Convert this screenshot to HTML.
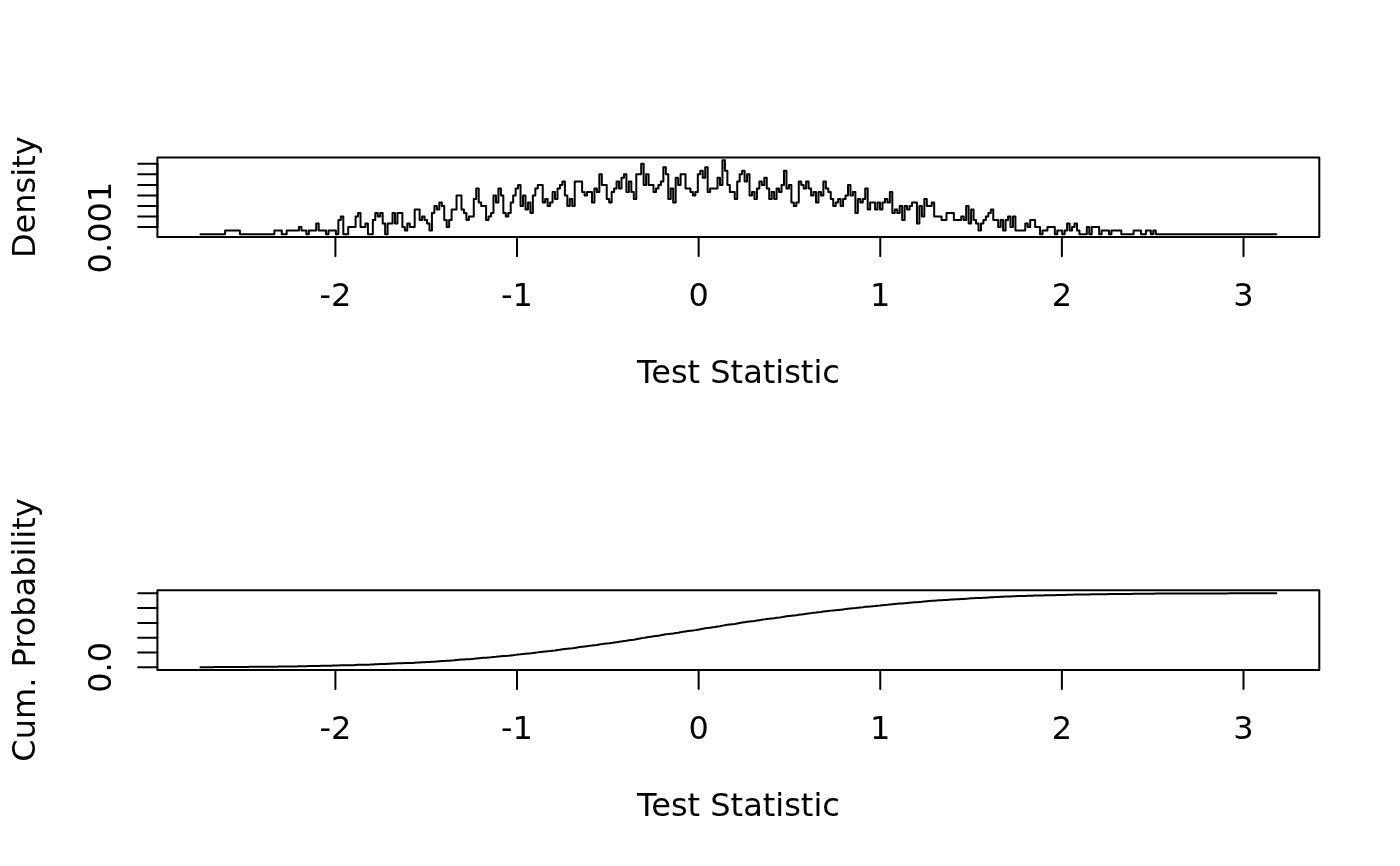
<!DOCTYPE html>
<html lang="en"><head><meta charset="utf-8"><title>Test Statistic distribution</title>
<style>
html,body{margin:0;padding:0;background:#fff;}
body{width:1400px;height:866px;overflow:hidden;}
svg{display:block;}
svg text{font-family:"DejaVu Sans","Liberation Sans",sans-serif;font-size:32px;fill:#000;stroke:none;}
</style></head><body>
<svg width="1400" height="866" viewBox="0 0 1400 866">
<rect width="1400" height="866" fill="#fff"/>
<g fill="none" stroke="#000" stroke-width="2" stroke-linecap="round" stroke-linejoin="round">
<rect x="157.4" y="157.4" width="1161.8999999999999" height="79.54999999999998"/>
<path d="M157.4 227.10H138.20000000000002"/><path d="M157.4 216.55H138.20000000000002"/><path d="M157.4 206.00H138.20000000000002"/><path d="M157.4 195.45H138.20000000000002"/><path d="M157.4 184.90H138.20000000000002"/><path d="M157.4 174.35H138.20000000000002"/><path d="M157.4 163.80H138.20000000000002"/>
<path d="M157.4 227.10V163.80"/>
<rect x="157.4" y="590.35" width="1161.8999999999999" height="79.54999999999995"/>
<path d="M157.4 667.30H138.20000000000002"/><path d="M157.4 652.50H138.20000000000002"/><path d="M157.4 637.70H138.20000000000002"/><path d="M157.4 622.90H138.20000000000002"/><path d="M157.4 608.10H138.20000000000002"/><path d="M157.4 593.30H138.20000000000002"/>
</g>
<g fill="none" stroke="#000" stroke-width="2" stroke-linecap="round">
<path d="M335.40 236.95H1243.50" /><path d="M335.40 236.95V256.15" /><path d="M517.02 236.95V256.15" /><path d="M698.64 236.95V256.15" /><path d="M880.26 236.95V256.15" /><path d="M1061.88 236.95V256.15" /><path d="M1243.50 236.95V256.15" />
<text x="335.40" y="305.8" text-anchor="middle">-2</text><text x="517.02" y="305.8" text-anchor="middle">-1</text><text x="698.64" y="305.8" text-anchor="middle">0</text><text x="880.26" y="305.8" text-anchor="middle">1</text><text x="1061.88" y="305.8" text-anchor="middle">2</text><text x="1243.50" y="305.8" text-anchor="middle">3</text>
<text x="738.5" y="383" text-anchor="middle">Test Statistic</text>

<path d="M335.40 669.9H1243.50" /><path d="M335.40 669.9V689.1" /><path d="M517.02 669.9V689.1" /><path d="M698.64 669.9V689.1" /><path d="M880.26 669.9V689.1" /><path d="M1061.88 669.9V689.1" /><path d="M1243.50 669.9V689.1" />
<text x="335.40" y="738.8" text-anchor="middle">-2</text><text x="517.02" y="738.8" text-anchor="middle">-1</text><text x="698.64" y="738.8" text-anchor="middle">0</text><text x="880.26" y="738.8" text-anchor="middle">1</text><text x="1061.88" y="738.8" text-anchor="middle">2</text><text x="1243.50" y="738.8" text-anchor="middle">3</text>
<text x="738.5" y="816" text-anchor="middle">Test Statistic</text>

</g>
<g fill="none" stroke="#000" stroke-width="2" stroke-linecap="round" stroke-linejoin="round">
<path id="hist" d="M200.50 234.13H225.12V230.62H239.89V234.13H274.36V230.62H281.75V234.13H286.67V230.62H298.98V227.10H301.44V230.62H306.37V234.13H308.83V230.62H316.21V223.58H318.68V230.62H326.06V234.13H328.52V230.62H335.91V234.13H338.37V220.06H340.83V216.55H343.30V234.13H348.22V227.10H355.61V216.55H358.07V213.03H360.53V227.10H365.45V223.58H367.92V234.13H372.84V220.06H375.30V213.03H377.76V216.55H380.23V213.03H382.69V223.58H385.15V234.13H387.61V223.58H392.54V213.03H395.00V223.58H397.46V213.03H402.38V227.10H404.85V230.62H407.31V223.58H409.77V227.10H414.69V209.51H419.62V220.06H422.08V216.55H424.54V220.06H427.00V223.58H429.47V230.62H431.93V213.03H434.39V206.00H436.85V209.51H439.31V202.48H441.78V206.00H444.24V220.06H446.70V227.10H449.16V220.06H451.62V209.51H456.55V195.45H461.47V209.51H463.93V213.03H466.40V220.06H468.86V216.55H473.78V198.96H476.24V188.41H478.71V202.48H481.17V206.00H486.09V220.06H488.55V216.55H491.02V213.03H493.48V195.45H495.94V202.48H498.40V188.41H500.86V195.45H503.33V213.03H505.79V216.55H508.25V213.03H510.71V202.48H513.17V195.45H515.64V188.41H518.10V184.90H520.56V206.00H523.02V195.45H525.48V209.51H527.95V202.48H530.41V213.03H532.87V195.45H535.33V188.41H537.79V184.90H542.72V202.48H545.18V198.96H547.64V206.00H550.10V202.48H552.57V191.93H555.03V198.96H557.49V188.41H559.95V184.90H562.41V181.38H564.88V195.45H567.34V206.00H569.80V198.96H572.26V206.00H574.72V181.38H582.11V191.93H584.57V195.45H587.03V191.93H591.96V202.48H594.42V188.41H596.88V191.93H599.34V174.34H601.81V184.90H606.73V198.96H609.19V202.48H611.65V191.93H614.12V188.41H616.58V181.38H619.04V188.41H621.50V177.86H623.96V174.34H626.43V191.93H628.89V181.38H631.35V191.93H633.81V198.96H636.27V174.34H641.20V163.79H643.66V184.90H646.12V174.34H648.58V184.90H653.51V191.93H655.97V188.41H658.43V184.90H660.89V181.38H663.36V167.31H665.82V174.34H668.28V198.96H670.74V188.41H673.20V202.48H675.67V177.86H678.13V184.90H680.59V174.34H685.51V188.41H690.44V191.93H692.90V195.45H695.36V191.93H697.82V174.34H700.29V170.83H702.75V177.86H705.21V167.31H707.67V191.93H710.13V188.41H717.52V177.86H719.98V184.90H722.44V160.28H724.91V170.83H727.37V184.90H729.83V191.93H734.75V198.96H737.22V181.38H739.68V174.34H742.14V170.83H744.60V181.38H747.06V174.34H749.53V195.45H751.99V191.93H754.45V198.96H756.91V188.41H759.37V181.38H761.84V184.90H764.30V177.86H766.76V188.41H769.22V198.96H771.68V191.93H774.15V198.96H776.61V188.41H779.07V191.93H781.53V184.90H783.99V170.83H786.46V188.41H788.92V184.90H791.38V202.48H793.84V206.00H796.30V202.48H798.77V181.38H801.23V184.90H803.69V188.41H806.15V181.38H808.61V188.41H811.08V195.45H813.54V191.93H816.00V202.48H818.46V191.93H820.92V195.45H823.39V181.38H825.85V188.41H828.31V191.93H830.77V198.96H833.23V206.00H835.70V202.48H838.16V198.96H840.62V206.00H843.08V198.96H845.54V195.45H848.01V184.90H850.47V195.45H852.93V191.93H855.39V213.03H857.85V198.96H860.32V202.48H862.78V198.96H865.24V188.41H867.70V209.51H870.16V202.48H875.09V209.51H877.55V202.48H880.01V209.51H882.47V202.48H884.94V198.96H887.40V202.48H889.86V191.93H892.32V213.03H894.78V209.51H897.25V213.03H899.71V206.00H902.17V220.06H904.63V206.00H907.09V209.51H909.56V206.00H912.02V202.48H916.94V223.58H919.40V206.00H921.87V216.55H924.33V198.96H926.79V206.00H931.71V202.48H934.18V216.55H941.56V220.06H946.49V213.03H953.87V220.06H961.26V216.55H963.72V220.06H966.18V206.00H968.64V223.58H971.11V209.51H973.57V220.06H976.03V223.58H978.49V230.62H980.95V223.58H983.42V220.06H985.88V216.55H988.34V213.03H990.80V209.51H993.26V220.06H998.19V227.10H1000.65V220.06H1003.11V230.62H1005.57V220.06H1008.04V216.55H1010.50V227.10H1012.96V216.55H1015.42V230.62H1025.27V223.58H1027.73V227.10H1030.19V220.06H1035.12V227.10H1040.04V234.13H1042.50V230.62H1047.43V227.10H1054.81V234.13H1057.28V230.62H1062.20V234.13H1064.66V230.62H1067.12V223.58H1069.59V230.62H1072.05V227.10H1074.51V223.58H1076.97V230.62H1079.43V234.13H1086.82V227.10H1089.28V234.13H1091.74V227.10H1099.13V234.13H1101.59V230.62H1108.98V234.13H1111.44V230.62H1121.29V234.13H1133.60V230.62H1140.98V234.13H1145.91V230.62H1150.83V234.13H1153.29V230.62H1155.76V234.13H1276.39"/>
<path id="cdf" d="M200.50 667.23 L202.96 667.21 L205.42 667.19 L207.89 667.17 L210.35 667.16 L212.81 667.14 L215.27 667.12 L217.73 667.11 L220.20 667.09 L222.66 667.07 L225.12 667.02 L227.58 667.00 L230.04 666.99 L232.51 666.98 L234.97 666.97 L237.43 666.95 L239.89 666.92 L242.35 666.91 L244.82 666.89 L247.28 666.88 L249.74 666.86 L252.20 666.84 L254.66 666.83 L257.13 666.81 L259.59 666.80 L262.05 666.78 L264.51 666.76 L266.97 666.74 L269.44 666.73 L271.90 666.71 L274.36 666.65 L276.82 666.63 L279.28 666.61 L281.75 666.57 L284.21 666.55 L286.67 666.50 L289.13 666.47 L291.59 666.44 L294.06 666.41 L296.52 666.38 L298.98 666.30 L301.44 666.24 L303.90 666.21 L306.37 666.18 L308.83 666.12 L311.29 666.08 L313.75 666.04 L316.21 665.94 L318.68 665.88 L321.14 665.84 L323.60 665.80 L326.06 665.77 L328.52 665.71 L330.99 665.67 L333.45 665.62 L335.91 665.59 L338.37 665.48 L340.83 665.34 L343.30 665.33 L345.76 665.32 L348.22 665.26 L350.68 665.20 L353.14 665.15 L355.61 665.01 L358.07 664.85 L360.53 664.79 L362.99 664.73 L365.45 664.64 L367.92 664.63 L370.38 664.62 L372.84 664.50 L375.30 664.34 L377.76 664.20 L380.23 664.04 L382.69 663.95 L385.15 663.94 L387.61 663.85 L390.07 663.76 L392.54 663.60 L395.00 663.51 L397.46 663.35 L399.92 663.20 L402.38 663.14 L404.85 663.10 L407.31 663.01 L409.77 662.94 L412.23 662.88 L414.69 662.70 L417.16 662.52 L419.62 662.40 L422.08 662.27 L424.54 662.15 L427.00 662.06 L429.47 662.02 L431.93 661.86 L434.39 661.65 L436.85 661.46 L439.31 661.22 L441.78 661.01 L444.24 660.90 L446.70 660.83 L449.16 660.72 L451.62 660.53 L454.09 660.35 L456.55 660.06 L459.01 659.77 L461.47 659.59 L463.93 659.42 L466.40 659.31 L468.86 659.17 L471.32 659.03 L473.78 658.77 L476.24 658.43 L478.71 658.20 L481.17 657.98 L483.63 657.77 L486.09 657.66 L488.55 657.52 L491.02 657.36 L493.48 657.07 L495.94 656.83 L498.40 656.50 L500.86 656.21 L503.33 656.05 L505.79 655.91 L508.25 655.75 L510.71 655.51 L513.17 655.22 L515.64 654.88 L518.10 654.52 L520.56 654.30 L523.02 654.00 L525.48 653.80 L527.95 653.56 L530.41 653.38 L532.87 653.09 L535.33 652.74 L537.79 652.37 L540.26 652.00 L542.72 651.75 L545.18 651.48 L547.64 651.26 L550.10 651.01 L552.57 650.69 L555.03 650.42 L557.49 650.07 L559.95 649.70 L562.41 649.31 L564.88 649.01 L567.34 648.79 L569.80 648.52 L572.26 648.30 L574.72 647.90 L577.19 647.51 L579.65 647.11 L582.11 646.79 L584.57 646.49 L587.03 646.17 L589.50 645.85 L591.96 645.60 L594.42 645.26 L596.88 644.94 L599.34 644.49 L601.81 644.12 L604.27 643.75 L606.73 643.48 L609.19 643.23 L611.65 642.91 L614.12 642.56 L616.58 642.17 L619.04 641.82 L621.50 641.40 L623.96 640.96 L626.43 640.64 L628.89 640.24 L631.35 639.92 L633.81 639.65 L636.27 639.20 L638.74 638.76 L641.20 638.24 L643.66 637.87 L646.12 637.42 L648.58 637.05 L651.05 636.68 L653.51 636.36 L655.97 636.02 L658.43 635.64 L660.89 635.25 L663.36 634.75 L665.82 634.31 L668.28 634.04 L670.74 633.69 L673.20 633.45 L675.67 633.03 L678.13 632.65 L680.59 632.21 L683.05 631.76 L685.51 631.42 L687.98 631.07 L690.44 630.75 L692.90 630.46 L695.36 630.13 L697.82 629.69 L700.29 629.22 L702.75 628.80 L705.21 628.31 L707.67 627.99 L710.13 627.65 L712.60 627.31 L715.06 626.97 L717.52 626.55 L719.98 626.18 L722.44 625.64 L724.91 625.17 L727.37 624.81 L729.83 624.49 L732.29 624.17 L734.75 623.90 L737.22 623.51 L739.68 623.07 L742.14 622.60 L744.60 622.21 L747.06 621.77 L749.53 621.47 L751.99 621.15 L754.45 620.89 L756.91 620.54 L759.37 620.15 L761.84 619.78 L764.30 619.37 L766.76 619.02 L769.22 618.75 L771.68 618.44 L774.15 618.17 L776.61 617.82 L779.07 617.51 L781.53 617.14 L783.99 616.67 L786.46 616.33 L788.92 615.96 L791.38 615.72 L793.84 615.50 L796.30 615.25 L798.77 614.86 L801.23 614.49 L803.69 614.15 L806.15 613.76 L808.61 613.42 L811.08 613.12 L813.54 612.80 L816.00 612.56 L818.46 612.24 L820.92 611.95 L823.39 611.56 L825.85 611.21 L828.31 610.90 L830.77 610.63 L833.23 610.41 L835.70 610.16 L838.16 609.90 L840.62 609.68 L843.08 609.41 L845.54 609.11 L848.01 608.75 L850.47 608.45 L852.93 608.14 L855.39 607.97 L857.85 607.70 L860.32 607.45 L862.78 607.19 L865.24 606.84 L867.70 606.65 L870.16 606.40 L872.63 606.16 L875.09 605.97 L877.55 605.72 L880.01 605.53 L882.47 605.27 L884.94 605.00 L887.40 604.74 L889.86 604.41 L892.32 604.23 L894.78 604.03 L897.25 603.85 L899.71 603.62 L902.17 603.48 L904.63 603.25 L907.09 603.05 L909.56 602.82 L912.02 602.56 L914.48 602.31 L916.94 602.20 L919.40 601.97 L921.87 601.82 L924.33 601.54 L926.79 601.31 L929.25 601.08 L931.71 600.83 L934.18 600.67 L936.64 600.51 L939.10 600.36 L941.56 600.23 L944.02 600.10 L946.49 599.92 L948.95 599.74 L951.41 599.56 L953.87 599.43 L956.33 599.30 L958.80 599.17 L961.26 599.02 L963.72 598.89 L966.18 598.66 L968.64 598.55 L971.11 598.35 L973.57 598.22 L976.03 598.11 L978.49 598.05 L980.95 597.95 L983.42 597.82 L985.88 597.66 L988.34 597.48 L990.80 597.27 L993.26 597.14 L995.73 597.02 L998.19 596.94 L1000.65 596.81 L1003.11 596.75 L1005.57 596.62 L1008.04 596.46 L1010.50 596.38 L1012.96 596.23 L1015.42 596.17 L1017.88 596.12 L1020.35 596.07 L1022.81 596.02 L1025.27 595.92 L1027.73 595.84 L1030.19 595.71 L1032.66 595.63 L1035.12 595.55 L1037.58 595.48 L1040.04 595.45 L1042.50 595.40 L1044.97 595.35 L1047.43 595.27 L1049.89 595.21 L1052.35 595.16 L1054.81 595.13 L1057.28 595.07 L1059.74 595.03 L1062.20 595.00 L1064.66 594.95 L1067.12 594.85 L1069.59 594.79 L1072.05 594.72 L1074.51 594.61 L1076.97 594.56 L1079.43 594.53 L1081.90 594.52 L1084.36 594.50 L1086.82 594.42 L1089.28 594.39 L1091.74 594.32 L1094.21 594.29 L1096.67 594.26 L1099.13 594.23 L1101.59 594.18 L1104.05 594.16 L1106.52 594.13 L1108.98 594.10 L1111.44 594.05 L1113.90 594.03 L1116.36 594.01 L1118.83 593.99 L1121.29 593.96 L1123.75 593.95 L1126.21 593.93 L1128.67 593.92 L1131.14 593.90 L1133.60 593.85 L1136.06 593.84 L1138.52 593.82 L1140.98 593.79 L1143.45 593.78 L1145.91 593.73 L1148.37 593.71 L1150.83 593.69 L1153.29 593.63 L1155.76 593.61 L1158.22 593.59 L1160.68 593.58 L1163.14 593.57 L1165.60 593.56 L1168.07 593.55 L1170.53 593.54 L1172.99 593.53 L1175.45 593.52 L1177.91 593.51 L1180.38 593.50 L1182.84 593.49 L1185.30 593.48 L1187.76 593.48 L1190.22 593.47 L1192.69 593.46 L1195.15 593.45 L1197.61 593.45 L1200.07 593.44 L1202.53 593.43 L1205.00 593.43 L1207.46 593.42 L1209.92 593.42 L1212.38 593.41 L1214.84 593.40 L1217.31 593.40 L1219.77 593.39 L1222.23 593.39 L1224.69 593.38 L1227.15 593.38 L1229.62 593.37 L1232.08 593.37 L1234.54 593.36 L1237.00 593.36 L1239.46 593.35 L1241.93 593.35 L1244.39 593.35 L1246.85 593.34 L1249.31 593.34 L1251.77 593.34 L1254.24 593.34 L1256.70 593.34 L1259.16 593.33 L1261.62 593.33 L1264.08 593.33 L1266.55 593.33 L1269.01 593.33 L1271.47 593.33 L1273.93 593.32 L1276.39 593.30"/>
</g>
<g class="yl">
<text transform="translate(35 197.2) rotate(-90)" text-anchor="middle">Density</text>
<text transform="translate(111 227.6) rotate(-90)" text-anchor="middle">0.001</text>
<text transform="translate(35 630) rotate(-90)" text-anchor="middle">Cum. Probability</text>
<text transform="translate(111 667.4) rotate(-90)" text-anchor="middle">0.0</text>
</g>
</svg>
</body></html>
